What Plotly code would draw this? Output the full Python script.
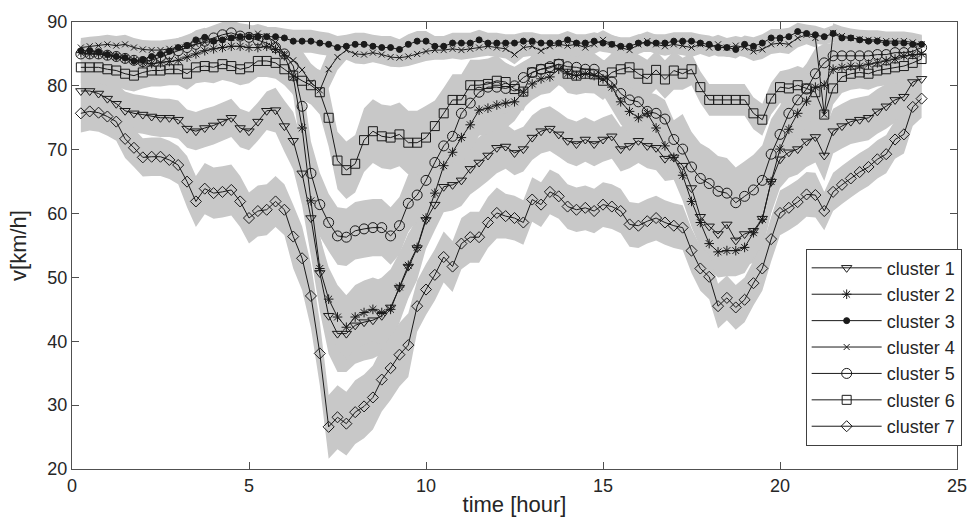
import plotly.graph_objects as go

# sampling grid: one value every 15 minutes
hours = [i / 4 for i in range(1, 97)]

# mean speed per cluster (km/h)
c1 = [79.2, 79.2, 78.8, 78.0, 77.2, 76.1, 75.7, 75.5, 75.2, 75.0, 75.0, 74.7,
      73.3, 72.9, 73.4, 73.8, 74.4, 75.0, 73.4, 72.9, 74.4, 76.1, 76.2, 73.7,
      71.4, 66.3, 59.3, 50.7, 44.0, 41.2, 41.2, 42.5, 43.0, 43.3, 44.0, 45.3,
      48.4, 51.7, 54.6, 59.0, 61.4, 64.2, 64.5, 65.2, 67.0, 68.0, 69.1, 70.3,
      70.5, 69.5, 70.1, 71.9, 72.9, 73.3, 72.4, 71.4, 70.9, 71.6, 70.9, 71.6,
      72.1, 70.1, 70.6, 71.4, 70.6, 70.3, 68.6, 68.8, 67.5, 64.0, 59.5, 58.0,
      56.8, 58.3, 55.8, 56.8, 57.3, 59.2, 65.0, 68.5, 69.6, 70.1, 71.3, 72.0,
      69.1, 72.9, 73.7, 74.4, 74.7, 75.0, 76.0, 76.8, 77.8, 78.3, 80.6, 81.1]
c2 = [85.2, 85.0, 85.0, 84.8, 84.6, 84.3, 84.0, 83.6, 83.5, 83.6, 83.8, 84.0,
      84.5, 85.0, 85.5, 85.8, 86.0, 86.2, 86.2, 86.0, 86.0, 86.2, 85.7, 84.7,
      81.4, 73.4, 62.0, 51.4, 46.6, 43.8, 42.2, 43.8, 44.5, 45.0, 44.5, 45.0,
      48.5, 51.9, 54.7, 59.3, 63.2, 67.5, 69.6, 71.9, 73.9, 76.2, 76.5, 77.0,
      77.3, 77.5, 79.0, 80.3, 81.1, 81.4, 82.6, 81.9, 81.6, 81.9, 81.6, 81.1,
      79.8, 77.5, 76.0, 75.0, 75.7, 73.4, 70.6, 68.8, 66.0, 61.9, 58.6, 55.3,
      54.0, 54.2, 54.2, 54.7, 57.0, 59.1, 65.0, 70.1, 73.2, 75.7, 77.6, 79.8,
      80.1, 82.6, 82.9, 83.1, 83.1, 83.4, 83.6, 83.9, 84.2, 84.7, 84.9, 85.0]
c3 = [85.5, 85.5, 85.3, 84.9, 84.6, 84.4, 83.9, 84.1, 84.6, 84.9, 85.4, 86.0,
      86.3, 87.2, 87.6, 87.0, 87.2, 87.5, 87.7, 87.7, 87.7, 87.7, 87.7, 87.5,
      87.0, 87.0, 87.0, 86.7, 86.5, 86.0, 86.2, 86.5, 86.5, 86.2, 86.0, 86.0,
      85.7, 86.5, 87.0, 87.0, 86.2, 86.2, 86.7, 86.7, 86.7, 87.2, 86.7, 86.7,
      86.7, 86.7, 87.0, 87.0, 86.7, 86.7, 86.7, 87.2, 86.7, 86.7, 87.0, 86.7,
      86.5, 86.2, 86.2, 86.7, 86.7, 86.7, 86.7, 87.0, 87.0, 87.0, 86.7, 86.5,
      86.0, 86.0, 85.7, 86.5, 86.2, 86.7, 87.5, 87.5, 87.7, 88.5, 88.2, 88.0,
      87.7, 88.2, 87.5, 87.5, 87.2, 87.0, 87.0, 86.7, 86.7, 86.7, 86.5, 86.5]
c4 = [86.0, 86.2, 86.3, 86.5, 86.3, 86.5, 86.0, 85.7, 85.6, 85.6, 85.8, 86.0,
      86.3, 86.5, 86.8, 87.0, 87.3, 87.5, 87.6, 87.8, 88.2, 87.8, 86.8, 85.0,
      84.0, 82.5, 80.5, 79.3, 82.6, 84.5, 85.6, 85.0, 84.9, 85.2, 84.9, 84.5,
      84.4, 84.6, 85.0, 85.4, 85.6, 85.6, 85.8, 85.6, 85.8, 86.0, 86.2, 86.0,
      85.8, 84.9, 86.0, 86.2, 85.5, 86.2, 86.5, 86.3, 86.5, 86.0, 86.5, 87.2,
      86.5, 86.0, 85.6, 86.5, 87.0, 86.5, 86.2, 86.5, 86.3, 86.0, 86.5, 86.0,
      86.5, 86.0, 86.3, 86.0, 85.4, 85.7, 86.5, 86.7, 86.5, 87.5, 88.0, 87.5,
      75.5, 88.3, 87.8, 87.5, 87.3, 87.2, 87.2, 87.0, 87.0, 87.0, 86.8, 86.5]
c5 = [85.0, 85.0, 85.0, 84.8, 84.6, 84.3, 84.0, 83.8, 84.0, 84.5, 85.0, 85.5,
      86.0, 86.5, 87.0, 87.5, 88.0, 88.3, 87.8, 87.6, 87.2, 86.7, 86.0, 85.0,
      83.1, 76.8, 66.3, 61.4, 58.6, 56.5, 56.3, 57.3, 57.6, 57.8, 57.8, 56.5,
      58.1, 61.6, 62.9, 65.2, 68.0, 70.6, 72.1, 75.7, 77.3, 79.0, 79.8, 79.8,
      79.6, 80.0, 81.3, 82.1, 82.6, 83.0, 83.4, 83.0, 82.9, 82.6, 82.6, 81.6,
      80.6, 78.8, 77.8, 77.5, 76.0, 75.7, 74.8, 71.6, 70.1, 67.3, 65.5, 64.7,
      63.5, 63.2, 61.7, 62.7, 63.7, 65.2, 69.3, 72.4, 75.7, 77.8, 79.5, 81.9,
      83.6, 84.7, 84.7, 84.7, 84.7, 84.7, 84.9, 84.9, 85.2, 85.2, 85.4, 86.0]
c6 = [82.9, 82.9, 82.9, 82.6, 82.4, 81.9, 81.6, 82.1, 82.4, 82.4, 82.6, 82.6,
      81.9, 82.9, 83.1, 82.9, 83.4, 83.1, 82.6, 82.9, 83.9, 83.9, 83.6, 82.6,
      81.6, 80.8, 80.1, 79.0, 75.0, 68.3, 66.8, 67.8, 71.5, 72.9, 72.1, 71.9,
      72.4, 71.1, 71.1, 71.9, 73.7, 75.7, 77.8, 77.8, 80.1, 80.1, 80.3, 80.8,
      80.6, 79.5, 79.1, 82.1, 82.6, 82.8, 83.4, 81.9, 81.6, 81.9, 81.8, 80.8,
      82.1, 82.6, 82.9, 81.9, 81.1, 82.5, 81.0, 82.4, 81.9, 82.6, 79.8, 77.8,
      77.8, 77.8, 77.8, 77.8, 75.7, 74.7, 78.0, 79.8, 79.6, 80.1, 79.6, 79.0,
      75.5, 79.6, 81.4, 81.9, 82.1, 81.9, 82.4, 82.6, 82.9, 83.1, 83.6, 84.2]
c7 = [75.7, 76.0, 75.8, 75.2, 74.4, 71.7, 70.3, 68.8, 68.9, 68.9, 68.4, 67.6,
      65.0, 61.9, 63.9, 63.2, 63.4, 63.7, 61.9, 59.3, 60.4, 60.6, 61.9, 60.6,
      56.4, 53.0, 47.1, 38.1, 26.6, 28.1, 27.1, 28.9, 29.8, 31.2, 34.0, 35.8,
      37.9, 39.4, 45.5, 48.1, 50.4, 53.2, 51.7, 55.3, 56.3, 56.3, 58.6, 60.1,
      59.6, 59.3, 58.6, 62.2, 61.4, 63.4, 62.7, 61.1, 60.6, 60.9, 60.4, 61.4,
      61.1, 60.4, 58.3, 58.1, 58.8, 59.3, 58.6, 58.1, 57.8, 54.2, 51.4, 50.1,
      45.5, 46.8, 45.3, 46.5, 49.1, 51.4, 56.0, 60.1, 60.9, 61.8, 63.0, 62.9,
      60.4, 63.4, 64.5, 65.5, 66.5, 67.3, 68.5, 69.3, 71.6, 72.4, 76.7, 78.0]

# spread (standard deviation) per cluster, km/h
s1 = [3.5, 3.5, 3.5, 3.5, 3.2, 3.0, 3.0, 3.0, 3.0, 3.0, 3.0, 3.0,
      3.0, 3.0, 3.0, 3.0, 3.0, 3.0, 3.0, 3.0, 3.0, 3.0, 3.5, 4.0,
      4.5, 5.0, 6.0, 6.0, 6.0, 6.0, 6.0, 6.0, 6.0, 6.0, 6.0, 6.0,
      5.5, 5.0, 5.0, 4.5, 4.0, 4.0, 4.0, 4.0, 4.0, 4.0, 4.0, 4.0,
      3.5, 3.5, 3.5, 3.5, 3.5, 3.5, 3.5, 3.5, 3.5, 3.5, 3.5, 3.5,
      3.5, 3.5, 3.5, 3.5, 3.5, 3.5, 3.5, 3.5, 4.0, 4.5, 5.0, 5.0,
      5.0, 5.0, 5.0, 5.0, 5.0, 5.0, 5.0, 4.5, 4.0, 4.0, 4.0, 4.0,
      4.0, 3.5, 3.5, 3.5, 3.5, 3.5, 3.5, 3.5, 3.5, 3.5, 3.5, 3.0]
s2 = [2.0, 2.0, 2.0, 2.0, 2.0, 2.0, 2.0, 2.0, 2.0, 2.0, 2.0, 2.0,
      2.0, 2.0, 2.0, 2.0, 2.0, 2.0, 2.0, 2.0, 2.0, 2.0, 2.0, 2.0,
      3.0, 5.0, 5.0, 5.0, 5.0, 5.0, 5.0, 5.0, 5.0, 5.0, 5.0, 5.0,
      5.0, 5.0, 4.0, 4.0, 4.0, 4.0, 4.0, 4.0, 4.0, 4.0, 4.0, 4.0,
      4.0, 3.0, 2.5, 2.5, 2.5, 2.5, 2.5, 2.5, 2.5, 2.5, 2.5, 2.5,
      3.5, 3.5, 3.5, 3.5, 3.5, 3.5, 3.5, 3.5, 4.0, 4.0, 4.0, 4.0,
      4.0, 4.0, 4.0, 4.0, 4.0, 4.0, 4.0, 4.0, 4.0, 4.0, 4.0, 4.0,
      3.0, 2.0, 2.0, 2.0, 2.0, 2.0, 2.0, 2.0, 2.0, 2.0, 2.0, 2.0]
s3 = [1.5, 1.5, 1.5, 1.5, 1.5, 1.5, 1.5, 1.5, 1.5, 1.5, 1.5, 1.5,
      1.5, 1.5, 1.5, 1.5, 1.5, 1.5, 1.5, 1.5, 1.5, 1.5, 1.5, 1.5,
      1.8, 1.8, 1.8, 1.8, 1.8, 1.8, 1.8, 1.8, 1.8, 1.8, 1.8, 1.8,
      1.6, 1.6, 1.6, 1.6, 1.6, 1.6, 1.6, 1.6, 1.6, 1.6, 1.6, 1.6,
      1.4, 1.4, 1.4, 1.4, 1.4, 1.4, 1.4, 1.4, 1.4, 1.4, 1.4, 1.4,
      1.4, 1.4, 1.4, 1.4, 1.4, 1.4, 1.4, 1.4, 1.4, 1.4, 1.4, 1.4,
      1.4, 1.4, 1.4, 1.4, 1.4, 1.4, 1.4, 1.4, 1.4, 1.4, 1.4, 1.4,
      1.3, 1.3, 1.3, 1.3, 1.3, 1.3, 1.3, 1.3, 1.3, 1.3, 1.3, 1.3]
s4 = [1.5, 1.5, 1.5, 1.5, 1.5, 1.5, 1.5, 1.5, 1.5, 1.5, 1.5, 1.5,
      1.5, 1.5, 1.5, 1.5, 1.5, 1.5, 1.5, 1.5, 1.5, 1.5, 1.5, 1.5,
      2.0, 3.0, 3.0, 3.0, 3.0, 2.0, 1.5, 1.5, 1.5, 1.5, 1.5, 1.5,
      1.5, 1.5, 1.5, 1.5, 1.5, 1.5, 1.5, 1.5, 1.5, 1.5, 1.5, 1.5,
      1.5, 1.5, 1.5, 1.5, 1.5, 1.5, 1.5, 1.5, 1.5, 1.5, 1.5, 1.5,
      1.5, 1.5, 1.5, 1.5, 1.5, 1.5, 1.5, 1.5, 1.5, 1.5, 1.5, 1.5,
      1.5, 1.5, 1.5, 1.5, 1.5, 1.5, 1.5, 1.5, 1.5, 1.5, 1.5, 1.5,
      3.0, 1.5, 1.5, 1.5, 1.5, 1.5, 1.5, 1.5, 1.5, 1.5, 1.5, 1.5]
s5 = [2.0, 2.0, 2.0, 2.0, 2.0, 2.0, 2.0, 2.0, 2.0, 2.0, 2.0, 2.0,
      2.0, 2.0, 2.0, 2.0, 2.0, 2.0, 2.0, 2.0, 2.0, 2.0, 2.0, 2.0,
      3.0, 4.0, 5.0, 5.0, 4.5, 4.5, 4.5, 4.5, 4.5, 4.5, 4.5, 4.5,
      4.5, 4.5, 4.0, 4.0, 4.0, 4.0, 4.0, 4.0, 4.0, 4.0, 4.0, 4.0,
      4.0, 3.0, 2.5, 2.5, 2.5, 2.5, 2.5, 2.5, 2.5, 2.5, 2.5, 2.5,
      3.0, 3.0, 3.0, 3.0, 3.0, 3.0, 3.0, 3.0, 5.5, 5.5, 5.5, 5.5,
      5.5, 5.5, 5.5, 5.5, 5.5, 5.5, 5.5, 4.5, 4.0, 4.0, 4.0, 4.0,
      3.0, 2.0, 2.0, 2.0, 2.0, 2.0, 2.0, 2.0, 2.0, 2.0, 2.0, 2.0]
s6 = [2.5, 2.5, 2.5, 2.5, 2.5, 2.5, 2.5, 2.5, 2.5, 2.5, 2.5, 2.5,
      2.5, 2.5, 2.5, 2.5, 2.5, 2.5, 2.5, 2.5, 2.5, 2.5, 2.5, 2.5,
      3.0, 3.0, 3.0, 3.5, 4.5, 4.5, 4.5, 4.5, 5.0, 5.0, 5.0, 5.0,
      5.0, 5.0, 5.0, 5.0, 4.0, 4.0, 4.0, 4.0, 4.0, 4.0, 4.0, 4.0,
      3.0, 3.0, 3.0, 3.0, 3.0, 3.0, 3.0, 3.0, 3.0, 3.0, 3.0, 3.0,
      3.0, 3.0, 3.0, 3.0, 3.0, 3.0, 3.0, 3.0, 2.5, 2.5, 2.5, 2.5,
      2.5, 2.5, 2.5, 2.5, 2.5, 2.5, 2.5, 2.5, 3.0, 3.0, 3.0, 3.0,
      4.0, 2.5, 2.5, 2.5, 2.5, 2.5, 2.5, 2.5, 2.5, 2.5, 2.5, 2.5]
s7 = [3.0, 3.0, 3.0, 3.0, 3.0, 3.0, 3.0, 3.0, 3.0, 3.0, 3.0, 3.0,
      4.0, 4.0, 4.0, 4.0, 4.0, 4.0, 4.0, 4.0, 4.0, 4.0, 4.0, 4.0,
      5.0, 5.0, 5.0, 5.0, 5.0, 5.0, 5.0, 5.0, 5.0, 5.0, 5.0, 5.0,
      5.0, 5.0, 4.0, 4.0, 4.0, 4.0, 4.0, 4.0, 4.0, 4.0, 4.0, 4.0,
      3.5, 3.5, 3.5, 3.5, 3.5, 3.5, 3.5, 3.5, 3.5, 3.5, 3.5, 3.5,
      3.5, 3.5, 3.5, 3.5, 3.5, 3.5, 3.5, 3.5, 3.5, 3.5, 3.5, 3.5,
      3.5, 3.5, 3.5, 3.5, 3.5, 3.5, 3.5, 3.5, 3.5, 3.5, 3.5, 3.5,
      3.0, 3.0, 3.0, 3.0, 3.0, 3.0, 3.0, 3.0, 3.0, 3.0, 3.0, 3.0]

names = ["cluster 1", "cluster 2", "cluster 3", "cluster 4",
         "cluster 5", "cluster 6", "cluster 7"]
means = [c1, c2, c3, c4, c5, c6, c7]
spreads = [s1, s2, s3, s4, s5, s6, s7]

# marker style per cluster: (symbol, size)
markers = [
    ("triangle-down-open", 9),
    ("asterisk-open", 8),
    ("circle", 6),
    ("x-thin-open", 6),
    ("circle-open", 10),
    ("square-open", 9),
    ("diamond-open", 8.5),
]

BAND = "rgb(200,200,200)"
LINE = "#1a1a1a"
FONT = "Arial, 'Liberation Sans', sans-serif"

fig = go.Figure()

# shaded mean +/- spread band for every cluster, drawn underneath the lines
for m, s in zip(means, spreads):
    upper = [a + b for a, b in zip(m, s)]
    lower = [a - b for a, b in zip(m, s)]
    fig.add_trace(go.Scatter(
        x=hours + hours[::-1], y=upper + lower[::-1],
        fill="toself", fillcolor=BAND, mode="none",
        hoverinfo="skip", showlegend=False))

for (name, m), (sym, size) in zip(zip(names, means), markers):
    fig.add_trace(go.Scatter(
        x=hours, y=m, name=name, mode="lines+markers",
        line=dict(color=LINE, width=1),
        marker=dict(symbol=sym, size=size, color=LINE,
                    line=dict(color=LINE, width=1))))

axis_common = dict(
    showline=True, linecolor="#505050", linewidth=1, mirror="ticks",
    ticks="inside", ticklen=7, tickcolor="#505050", showgrid=False,
    zeroline=False, tickfont=dict(size=18, color="#262626"),
)

fig.update_layout(
    width=979, height=525,
    margin=dict(l=72, r=16, t=17, b=52),
    plot_bgcolor="white", paper_bgcolor="white",
    font=dict(family=FONT, size=18, color="#262626"),
    xaxis=dict(range=[0, 25], tickvals=[0, 5, 10, 15, 20, 25],
               title=dict(text="time [hour]", standoff=2), **axis_common),
    yaxis=dict(range=[20, 90], tickvals=[20, 30, 40, 50, 60, 70, 80, 90],
               title=dict(text="v[km/h]", standoff=14), **axis_common),
    legend=dict(x=0.829, y=0.493, xanchor="left", yanchor="top",
                bgcolor="white", bordercolor="#404040", borderwidth=1,
                font=dict(size=18), itemwidth=70),
    showlegend=True,
)

fig.write_html("out.html")
